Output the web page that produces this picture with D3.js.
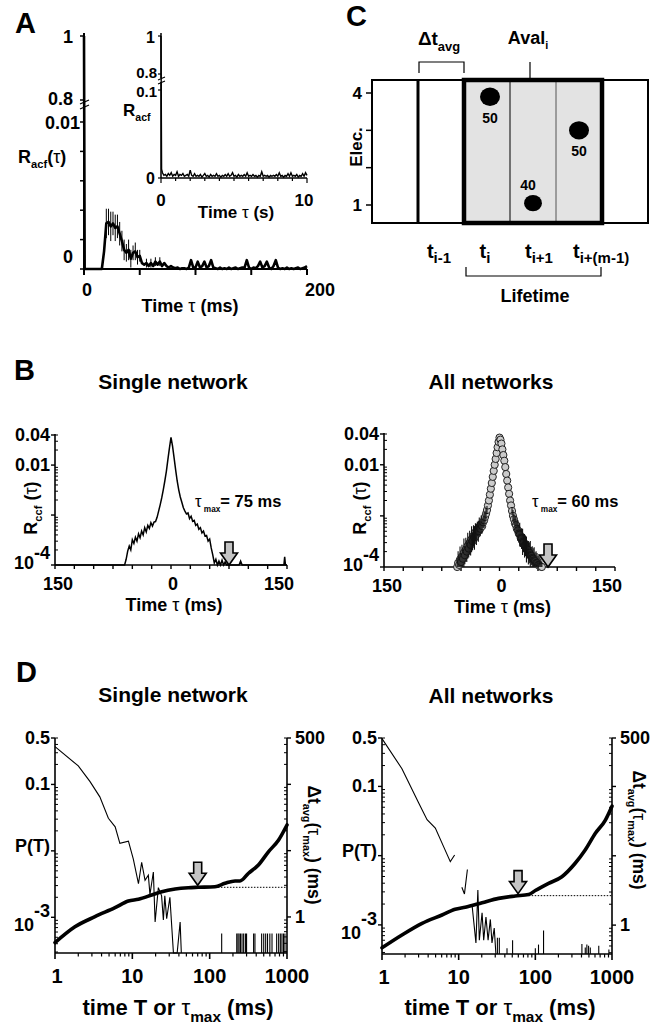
<!DOCTYPE html>
<html><head><meta charset="utf-8">
<script src="https://cdn.jsdelivr.net/npm/d3@7"></script>
<style>
body{margin:0;background:#fff}
svg{display:block}
text{font-family:'Liberation Sans',Arial,Helvetica,sans-serif;fill:#000}
</style>
</head><body>
<svg id="c" width="671" height="1028"></svg>
<script>
// ================= DATA =================
// Panel A: autocorrelation R_acf(tau), tau in ms
const acfMain = [[0,1],[0.6,0],[16,0],[18,0.0012],[20,0.0031],[22,0.0032],[24,0.0029],[26,0.0031],[28,0.0028],[30,0.0029],[32,0.0024],[34,0.0019],[36,0.0013],[38,0.0011],[40,0.0013],[42,0.0007],[44,0.0011],[46,0.0012],[48,0.0008],[50,0.0009],[52,0.0004],[54,0.0003],[56,0.0004],[58,0.0002],[60,0.0004],[62,0.0002],[64,0.0005],[66,0.0003],[68,0.0005],[70,0.0002],[72,0.0004],[74,0.0002],[76,0.0001],[78,0.0002],[80,0.0001],[82,0.00005],[84,0.0001],[86,0],[88,0.00005],[90,0.00005],[92,0],[94,0.0001],[96,0.0006],[98,0.0001],[100,0.0001],[102,0.0005],[104,0.0001],[106,0.0002],[108,0.0005],[110,0.0001],[112,0.0002],[114,0.0006],[116,0.0001],[118,0.00005],[120,0],[122,0.0001],[124,0],[126,0.00005],[128,0],[130,0.0001],[132,0],[134,0.00005],[136,0.0001],[138,0],[140,0.00005],[142,0.0001],[144,0.0001],[146,0.0006],[148,0.0001],[150,0],[152,0.0001],[154,0.00005],[156,0.0002],[158,0.0005],[160,0.0001],[162,0.0002],[164,0.0005],[166,0.0001],[168,0],[170,0.0002],[172,0.0006],[174,0.0001],[176,0],[178,0.00005],[180,0],[182,0.0001],[184,0],[186,0.00005],[188,0],[190,0.00005],[192,0.0001],[194,0],[196,0.00005],[198,0.0001],[200,0.0002]];
const acfErr = [[20,0.0031,0.0010],[22,0.0032,0.0009],[24,0.0029,0.0010],[26,0.0031,0.0008],[28,0.0028,0.0009],[30,0.0029,0.0008],[32,0.0024,0.0008],[34,0.0019,0.0007],[36,0.0013,0.0007],[38,0.0011,0.0006],[40,0.0013,0.0007],[42,0.0007,0.0006],[44,0.0011,0.0005],[46,0.0012,0.0006],[48,0.0008,0.0005],[50,0.0009,0.0004],[56,0.0004,0.0003],[60,0.0004,0.0003],[64,0.0005,0.0003],[68,0.0005,0.0003]];
const acfXTicks = [0,50,100,150,200];
const acfXLabels = ["0","200"];
// Inset: tau in s
const acfInset = [[0,1],[0.04,0.01],[0.1,0.006],[0.2,0.003],[0.3,0.004],[0.4,0.002],[0.5,0.005],[0.6,0.003],[0.7,0.006],[0.8,0.002],[0.9,0.004],[1.0,0.003],[1.1,0.007],[1.2,0.002],[1.3,0.004],[1.4,0.003],[1.5,0.005],[1.6,0.002],[1.7,0.003],[1.8,0.004],[1.9,0.002],[2.0,0.009],[2.1,0.003],[2.2,0.002],[2.3,0.005],[2.4,0.002],[2.5,0.003],[2.6,0.002],[2.7,0.004],[2.8,0.001],[2.9,0.003],[3.0,0.005],[3.1,0.002],[3.2,0.003],[3.3,0.001],[3.4,0.004],[3.5,0.002],[3.6,0.003],[3.7,0.002],[3.8,0.005],[3.9,0.002],[4.0,0.003],[4.1,0.001],[4.2,0.003],[4.3,0.002],[4.4,0.004],[4.5,0.002],[4.6,0.005],[4.7,0.002],[4.8,0.003],[4.9,0.006],[5.0,0.002],[5.1,0.003],[5.2,0.001],[5.3,0.004],[5.4,0.002],[5.5,0.003],[5.6,0.002],[5.7,0.004],[5.8,0.002],[5.9,0.006],[6.0,0.002],[6.1,0.003],[6.2,0.002],[6.3,0.004],[6.4,0.002],[6.5,0.003],[6.6,0.001],[6.7,0.003],[6.8,0.002],[6.9,0.007],[7.0,0.002],[7.1,0.003],[7.2,0.002],[7.3,0.003],[7.4,0.001],[7.5,0.003],[7.6,0.002],[7.7,0.003],[7.8,0.002],[7.9,0.004],[8.0,0.002],[8.1,0.006],[8.2,0.002],[8.3,0.003],[8.4,0.001],[8.5,0.003],[8.6,0.002],[8.7,0.005],[8.8,0.002],[8.9,0.006],[9.0,0.002],[9.1,0.003],[9.2,0.002],[9.3,0.004],[9.4,0.001],[9.5,0.003],[9.6,0.002],[9.7,0.005],[9.8,0.002],[9.9,0.006],[10,0.003]];
const insetXTicks = [0,1,2,3,4,5,6,7,8,9,10];

// Panel C: schematic avalanche
const cBins = [0,1,2,3,4,5];
const cAvalBins = [2,3,4];
const cElecTicks = [1,2,3,4];
const cDots = [{bin:2, elec:3.9, amp:50},{bin:3, elec:1.05, amp:40},{bin:4, elec:3.0, amp:50}];

// Panel B: cross-correlation, single network (line)
const ccfSingle = [[-150,1e-4],[-62,1e-4],[-60,1e-4],[-58,1.3e-4],[-56,1.9e-4],[-54,2.4e-4],[-52,2.0e-4],[-50,3.2e-4],[-48,2.7e-4],[-46,3.6e-4],[-44,3.0e-4],[-42,4.2e-4],[-40,3.5e-4],[-38,4.8e-4],[-36,4.0e-4],[-34,5.6e-4],[-32,4.6e-4],[-30,6.2e-4],[-28,5.4e-4],[-26,7.0e-4],[-24,6.0e-4],[-22,7.2e-4],[-20,7.4e-4],[-18,9e-4],[-16,1.2e-3],[-14,1.6e-3],[-12,2.2e-3],[-10,3.2e-3],[-8,4.8e-3],[-6,7.5e-3],[-4,1.3e-2],[-2,2.2e-2],[0,3.6e-2],[2,2.4e-2],[4,1.4e-2],[6,8e-3],[8,4.8e-3],[10,3.2e-3],[12,2.3e-3],[14,1.8e-3],[16,1.4e-3],[18,1.2e-3],[20,1.05e-3],[22,1.1e-3],[24,8.5e-4],[26,9.5e-4],[28,7.5e-4],[30,7.8e-4],[32,6.2e-4],[34,6.6e-4],[36,5.2e-4],[38,5.6e-4],[40,4.4e-4],[42,4.8e-4],[44,3.8e-4],[46,3.9e-4],[48,3.0e-4],[50,3.3e-4],[52,2.2e-4],[54,1.6e-4],[56,1.1e-4],[58,1.3e-4],[60,1e-4],[62,1.2e-4],[64,1e-4],[66,1.25e-4],[68,1e-4],[70,1.15e-4],[72,1e-4],[88,1e-4],[90,1.2e-4],[92,1e-4],[146,1e-4],[147,1.45e-4],[148,1e-4],[150,1e-4]];
const tauMaxSingle = 75;
// Panel B: all networks (circles with multiplicative error factor)
const ccfAllTau = [-55,-53.75,-52.5,-51.25,-50,-48.75,-47.5,-46.25,-45,-43.75,-42.5,-41.25,-40,-38.75,-37.5,-36.25,-35,-33.75,-32.5,-31.25,-30,-28.75,-27.5,-26.25,-25,-23.75,-22.5,-21.25,-20,-18.75,-17.5,-16.25,-15,-13.75,-12.5,-11.25,-10,-8.75,-7.5,-6.25,-5,-3.75,-2.5,-1.25,0,1.25,2.5,3.75,5,6.25,7.5,8.75,10,11.25,12.5,13.75,15,16.25,17.5,18.75,20,21.25,22.5,23.75,25,26.25,27.5,28.75,30,31.25,32.5,33.75,35,36.25,37.5,38.75,40,41.25,42.5,43.75,45,46.25,47.5,48.75,50,51.25,52.5,53.75,55];
const ccfAllVal = [1.0e-4,1.2e-4,1.1e-4,1.4e-4,1.25e-4,1.6e-4,1.45e-4,1.9e-4,1.7e-4,2.2e-4,2.0e-4,2.6e-4,2.3e-4,3.0e-4,2.7e-4,3.5e-4,3.2e-4,4.1e-4,3.7e-4,4.8e-4,4.3e-4,5.5e-4,5.0e-4,6.2e-4,5.6e-4,6.8e-4,6.3e-4,7.5e-4,8.2e-4,9.5e-4,1.1e-3,1.3e-3,1.6e-3,2.0e-3,2.6e-3,3.4e-3,4.4e-3,5.8e-3,7.6e-3,1.0e-2,1.3e-2,1.7e-2,2.2e-2,2.8e-2,3.4e-2,3.1e-2,2.6e-2,2.0e-2,1.55e-2,1.2e-2,9.0e-3,6.6e-3,4.9e-3,3.6e-3,2.7e-3,2.0e-3,1.6e-3,1.25e-3,1.0e-3,8.6e-4,7.2e-4,6.6e-4,5.6e-4,5.2e-4,4.5e-4,4.3e-4,3.7e-4,3.6e-4,3.1e-4,3.0e-4,2.6e-4,2.6e-4,2.2e-4,2.2e-4,1.9e-4,1.9e-4,1.7e-4,1.65e-4,1.5e-4,1.45e-4,1.35e-4,1.3e-4,1.2e-4,1.18e-4,1.1e-4,1.08e-4,1.04e-4,1.02e-4,1.0e-4];
const ccfAllErr = [1.5,1.7,1.6,1.8,1.5,1.7,1.6,1.9,1.5,1.7,1.6,1.8,1.5,1.7,1.6,1.8,1.5,1.6,1.7,1.5,1.6,1.4,1.6,1.5,1.4,1.5,1.4,1.3,1.4,1.3,1.3,1.2,1,1,1,1,1,1,1,1,1,1,1,1,1,1,1,1,1,1,1,1,1,1,1,1,1,1.2,1.3,1.3,1.4,1.5,1.4,1.6,1.5,1.7,1.5,1.6,1.8,1.5,1.7,1.6,1.8,1.5,1.7,1.6,1.9,1.5,1.7,1.6,1.8,1.5,1.7,1.6,1.5,1.6,1.5,1.4,1.3];
const tauMaxAll = 63;
const bXTicks = [-150,-125,-100,-75,-50,-25,0,25,50,75,100,125,150];
const bXLabels = [[-150,"150"],[0,"0"],[150,"150"]];

// Panel D: lifetime distribution P(T) and dt_avg(tau_max)
const pTSingle = [[1,0.37],[2,0.19],[2.84,0.11],[3.8,0.065],[4.9,0.031],[6.0,0.023],[6.9,0.013],[8.9,0.014],[10.3,0.0075],[12,0.0032],[13.2,0.0067],[14.6,0.0036],[16.1,0.0043],[16.9,0.0022],[18.7,0.0048],[19.7,0.00085],[21.7,0.0028],[23.9,0.0021],[25.2,0.00091],[26.3,0.0021],[27.8,0.00095],[30.6,0.0020],[34,0],[38,0],[41.5,0.00085],[43,0]];
const spikeTSingle = [143,224,232,240,250,262,275,290,300,370,385,470,500,530,560,600,640,735,780,820,860,900,940];
const spikePSingle = [5.7e-4,5.7e-4,5.7e-4,5.7e-4,5.7e-4,5.7e-4,5.7e-4,5.7e-4,5.7e-4,5.7e-4,5.7e-4,5.7e-4,5.7e-4,5.7e-4,5.7e-4,5.7e-4,5.7e-4,5.7e-4,5.7e-4,5.7e-4,5.7e-4,5.7e-4,5.7e-4];
const dtTSingle = [1,1.81,3.29,5.97,8.9,12,17.8,24,35.8,53,71,117,158,213,247,318,427,575,779,1000];
const dtSingle = [0.41,0.71,1.01,1.38,1.74,1.85,2.14,2.40,2.64,2.76,2.80,2.86,3.22,3.49,3.49,4.56,6.09,9.6,14.5,24.4];
const plateauSingle = {from:117, value:2.80, arrowT:70};

const pTAll = [[1,0.49],[1.82,0.18],[3.0,0.058],[3.87,0.033],[4.96,0.025],[6.36,0.0135],[7.78,0.0082],[8.86,0.0102],null,[11,0.0035],[11.9,0.0028],[13,0.0063],null,[14.9,0.0020],[16.8,0.00055],[17.8,0.0032],[18.6,0.0006],[20.2,0.0015],[21.2,0.0006],[22.7,0.0013],[24.2,0.0006],[25.9,0.0012],[27.2,0.00055],[29.1,0.0009],[30.6,0]];
const spikeTAll = [32,33.9,42.7,50.5,100,110,128,405,448,470,495,521,672,911];
const spikePAll = [6.5e-4,6.5e-4,4.6e-4,6e-4,4.6e-4,5.2e-4,8.3e-4,5.3e-4,4.7e-4,5.2e-4,5e-4,4.7e-4,5e-4,4.4e-4];
const dtTAll = [1,1.82,3.33,6.06,9,12.2,20.2,33.2,54.7,81.8,100,149,222,331,447,607,820,1000];
const dtAll = [0.47,0.72,1.06,1.40,1.69,1.81,2.10,2.43,2.63,2.76,3.15,4.0,4.99,7.8,12.1,21.1,32.8,52];
const plateauAll = {from:82, value:2.66, arrowT:59.5};
const dXLabels = [[1,"1"],[10,"10"],[100,"100"],[1000,"1000"]];

// ================= HELPERS =================
const svg = d3.select('#c');
function rich(g, x, y, parts, o = {}) {
  const size = o.size || 17, subS = o.subScale || 0.62;
  const t = g.append('text').attr('x', x).attr('y', y).attr('font-size', size)
    .attr('font-weight', o.weight || 'bold').attr('text-anchor', o.anchor || 'start');
  if (o.rotate) t.attr('transform', `rotate(${o.rotate},${x},${y})`);
  let shift = 0;
  for (const p of parts) {
    const [txt, kind] = typeof p === 'string' ? [p, ''] : p;
    const ts = t.append('tspan').text(txt);
    let target = 0;
    if (kind === 'sub') { target = size * (o.subDrop || 0.3); ts.attr('font-size', size * subS); }
    else if (kind === 'sup') { target = -(o.supRise || size * 0.6); }
    else if (kind === 'sym') { ts.attr('font-weight', 'normal'); }
    if (target !== shift) ts.attr('dy', target - shift);
    shift = target;
  }
  return t;
}
function ln(g, x1, y1, x2, y2, w = 1.5, col = '#000') {
  return g.append('line').attr('x1', x1).attr('y1', y1).attr('x2', x2).attr('y2', y2)
    .attr('stroke', col).attr('stroke-width', w);
}
function arrow(g, x, yTip) {
  const bw = 4, hw = 8.5, bh = 11, hh = 12;
  g.append('path')
    .attr('d', `M${x-bw},${yTip-hh-bh}H${x+bw}V${yTip-hh}H${x+hw}L${x},${yTip}L${x-hw},${yTip-hh}H${x-bw}Z`)
    .attr('fill', '#c4c4c4').attr('stroke', '#000').attr('stroke-width', 1.6);
}
function isMajor(v) { const m = v / Math.pow(10, Math.floor(Math.log10(v) + 1e-9)); return Math.abs(m - 1) < 1e-6; }

// ================= PANEL A =================
const gA = svg.append('g');
const xA = d3.scaleLinear().domain([0, 200]).range([84, 307]);
const yAlo = d3.scaleLinear().domain([0, 0.01]).range([269, 122]);
const yAhi = d3.scaleLinear().domain([0.8, 1]).range([100, 36]);
const yA = v => v >= 0.8 ? yAhi(v) : yAlo(Math.min(v, 0.01));
rich(gA, 15, 33, ["A"], {size: 29});
ln(gA, xA(0), 33, xA(0), yAlo(0), 2);
ln(gA, xA(0), yAlo(0), xA(200), yAlo(0), 2);
yAlo.ticks(5).forEach(v => ln(gA, xA(0) - 4, yAlo(v), xA(0), yAlo(v), 1.5));
[0.8, 1].forEach(v => ln(gA, xA(0) - 4, yAhi(v), xA(0), yAhi(v), 1.5));
acfXTicks.forEach(v => ln(gA, xA(v), yAlo(0), xA(v), yAlo(0) + 6, 2));
gA.append('rect').attr('x', 80).attr('y', 102).attr('width', 9).attr('height', 5).attr('fill', '#fff');
ln(gA, 80, 104, 89, 100, 1.3); ln(gA, 80, 109, 89, 105, 1.3);
rich(gA, 73, yAhi(1) + 7, ["1"], {size: 18, anchor: 'end'});
rich(gA, 73, yAhi(0.8) + 5, ["0.8"], {size: 18, anchor: 'end'});
rich(gA, 80, yAlo(0.01) + 7, ["0.01"], {size: 18, anchor: 'end'});
rich(gA, 73, yAlo(0) - 6, ["0"], {size: 18, anchor: 'end'});
rich(gA, 18, 163, ["R", ["acf", "sub"], "(", ["τ", "sym"], ")"], {size: 18});
rich(gA, xA(0) + 3, 296, [acfXLabels[0]], {size: 18, anchor: 'middle'});
rich(gA, xA(200) + 13, 296, [acfXLabels[1]], {size: 18, anchor: 'middle'});
rich(gA, 190, 312, ["Time ", ["τ", "sym"], " (ms)"], {size: 18, anchor: 'middle'});
acfErr.forEach(d => ln(gA, xA(d[0]), yAlo(d[1] - d[2]), xA(d[0]), yAlo(d[1] + d[2]), 1));
gA.append('path').datum(acfMain)
  .attr('d', d3.line().x(d => xA(d[0])).y(d => yA(d[1])))
  .attr('fill', 'none').attr('stroke', '#000').attr('stroke-width', 2.6).attr('stroke-linejoin', 'round');
// inset
const xI = d3.scaleLinear().domain([0, 10]).range([161, 307]);
const yIlo = d3.scaleLinear().domain([0, 0.1]).range([178, 90]);
const yIhi = d3.scaleLinear().domain([0.8, 1]).range([74, 36]);
const yI = v => v >= 0.8 ? yIhi(v) : yIlo(Math.min(v, 0.1));
ln(gA, xI(0), 33, xI(0), yIlo(0), 1.5);
ln(gA, xI(0), yIlo(0), xI(10), yIlo(0), 1.5);
insetXTicks.forEach(v => ln(gA, xI(v), yIlo(0), xI(v), yIlo(0) + (v % 10 === 0 ? 5 : 3), 1.2));
[0, 0.1].forEach(v => ln(gA, xI(0) - 3, yIlo(v), xI(0), yIlo(v), 1.2));
[0.8, 1].forEach(v => ln(gA, xI(0) - 3, yIhi(v), xI(0), yIhi(v), 1.2));
gA.append('rect').attr('x', 158).attr('y', 78).attr('width', 7).attr('height', 4).attr('fill', '#fff');
ln(gA, 158, 80, 165, 77, 1.1); ln(gA, 158, 84, 165, 81, 1.1);
rich(gA, 155, yIhi(1) + 7, ["1"], {size: 16, anchor: 'end'});
rich(gA, 157, yIhi(0.8) + 4, ["0.8"], {size: 15, anchor: 'end'});
rich(gA, 157, yIlo(0.1) + 7, ["0.1"], {size: 15, anchor: 'end'});
rich(gA, 155, yIlo(0) + 6, ["0"], {size: 16, anchor: 'end'});
rich(gA, 123, 116, ["R", ["acf", "sub"]], {size: 17});
rich(gA, xI(0), 206, ["0"], {size: 17, anchor: 'middle'});
rich(gA, xI(10) - 3, 206, ["10"], {size: 17, anchor: 'middle'});
rich(gA, 236, 218, ["Time ", ["τ", "sym"], " (s)"], {size: 17, anchor: 'middle'});
gA.append('path').datum(acfInset)
  .attr('d', d3.line().x(d => xI(d[0])).y(d => yI(d[1])))
  .attr('fill', 'none').attr('stroke', '#000').attr('stroke-width', 1.4);

// ================= PANEL C =================
const gC = svg.append('g');
const xC = d3.scaleBand().domain(cBins).range([372, 648]);
const yC = d3.scaleLinear().domain([1, 4]).range([205, 93]);
const rC = d3.scaleSqrt().domain([0, 50]).range([0, 10]);
const bw = xC.bandwidth(), cTop = 80, cBot = 223;
rich(gC, 346, 26, ["C"], {size: 29});
gC.append('rect').attr('x', xC(0)).attr('y', cTop).attr('width', xC(5) + bw - xC(0)).attr('height', cBot - cTop)
  .attr('fill', '#fff').attr('stroke', '#000').attr('stroke-width', 2);
const a0 = xC(cAvalBins[0]), a1 = xC(cAvalBins[cAvalBins.length - 1]) + bw;
gC.append('rect').attr('x', a0).attr('y', cTop).attr('width', a1 - a0).attr('height', cBot - cTop)
  .attr('fill', '#e3e3e3').attr('stroke', 'none');
cAvalBins.slice(1).forEach((b, i) => ln(gC, xC(b), cTop, xC(b), cBot, 1, i ? '#555' : '#000'));
ln(gC, xC(1), cTop, xC(1), cBot, 3);
gC.append('rect').attr('x', a0).attr('y', cTop).attr('width', a1 - a0).attr('height', cBot - cTop)
  .attr('fill', 'none').attr('stroke', '#000').attr('stroke-width', 4.5);
cElecTicks.forEach(v => ln(gC, xC(0) - 6, yC(v), xC(0), yC(v), 1.5));
rich(gC, 362, yC(4) + 6, ["4"], {size: 17, anchor: 'end'});
rich(gC, 362, yC(1) + 6, ["1"], {size: 17, anchor: 'end'});
rich(gC, 362, 147, ["Elec."], {size: 17, anchor: 'middle', rotate: -90});
cDots.forEach(d => {
  const cx = xC(d.bin) + bw / 2 + (d.bin === 2 ? 3 : 0), cy = yC(d.elec);
  gC.append('ellipse').attr('cx', cx).attr('cy', cy).attr('rx', rC(d.amp)).attr('ry', rC(d.amp) * 0.92).attr('fill', '#000');
  const below = d.elec > 2;
  rich(gC, cx - (d.bin === 3 ? 5 : 0), below ? cy + rC(d.amp) + 16 : cy - rC(d.amp) - 4, [String(d.amp)], {size: 14, anchor: 'middle'});
});
gC.append('path').attr('d', `M${xC(1) + 1},73V62H${xC(2)}V73`).attr('fill', 'none').attr('stroke', '#000').attr('stroke-width', 1.2);
rich(gC, xC(1) + bw / 2 - 2, 45, ["Δt", ["avg", "sub"]], {size: 19, anchor: 'middle', subScale: 0.68});
ln(gC, 530, 62, 530, cTop, 1.2);
rich(gC, 528, 44, ["Aval", ["i", "sub"]], {size: 18, anchor: 'middle', subScale: 0.6});
rich(gC, xC(1) + bw / 2 - 2, 258, ["t", ["i-1", "sub"]], {size: 20, anchor: 'middle', subScale: 0.75, subDrop: 0.25});
rich(gC, xC(2) + bw / 2 - 2, 258, ["t", ["i", "sub"]], {size: 20, anchor: 'middle', subScale: 0.75, subDrop: 0.25});
rich(gC, xC(3) + bw / 2 + 6, 258, ["t", ["i+1", "sub"]], {size: 20, anchor: 'middle', subScale: 0.75, subDrop: 0.25});
rich(gC, xC(4) + bw / 2 - 6, 258, ["t", ["i+(m-1)", "sub"]], {size: 20, anchor: 'start', subScale: 0.75, subDrop: 0.25});
gC.append('path').attr('d', `M${a0 + 2},267V276H${a1 - 1}V267`).attr('fill', 'none').attr('stroke', '#000').attr('stroke-width', 1.2);
rich(gC, 535, 302, ["Lifetime"], {size: 18, anchor: 'middle'});

// ================= PANEL B =================
function bAxes(g, x, y) {
  const y0 = y.range()[0];
  ln(g, x(-150), y.range()[1] - 1, x(-150), y0, 1.6);
  ln(g, x(-150), y0, x(150), y0, 1.6);
  bXTicks.forEach(v => ln(g, x(v), y0, x(v), y0 + 4, 1.4));
  y.ticks().forEach(v => {
    if (isMajor(v)) ln(g, x(-150) - 4, y(v), x(-150), y(v), 1.4);
    else ln(g, x(-150), y(v), x(-150) + 3, y(v), 1);
  });
  ln(g, x(-150) - 4, y(0.04), x(-150), y(0.04), 1.4);
  const lx = x(-150) - 5;
  rich(g, lx, y(0.04) + 6, ["0.04"], {size: 18, anchor: 'end'});
  rich(g, lx, y(0.01) + 6, ["0.01"], {size: 18, anchor: 'end'});
  rich(g, lx, y0 + 4, ["10", ["-4", "sup"]], {size: 18, anchor: 'end', supRise: 10});
  bXLabels.forEach(d => rich(g, x(d[0]) + (d[0] === 0 ? 2 : d[0] < 0 ? 3 : -8), y0 + 25, [d[1]], {size: 18, anchor: 'middle'}));
  rich(g, x(0) + 3, y0 + 46, ["Time ", ["τ", "sym"], " (ms)"], {size: 18, anchor: 'middle'});
  rich(g, x(-150) - 18, 508, ["R", ["ccf", "sub"], " (", ["τ", "sym"], ")"], {size: 18, anchor: 'middle', rotate: -90});
}
const gB1 = svg.append('g');
const xB1 = d3.scaleLinear().domain([-150, 150]).range([55, 287]);
const yB1 = d3.scaleLog().domain([1e-4, 0.04]).range([565, 435]);
rich(gB1, 14, 380, ["B"], {size: 29});
rich(gB1, 173, 389, ["Single network"], {size: 21, anchor: 'middle'});
bAxes(gB1, xB1, yB1);
gB1.append('path').datum(ccfSingle)
  .attr('d', d3.line().x(d => xB1(d[0])).y(d => yB1(Math.max(d[1], 1e-4))))
  .attr('fill', 'none').attr('stroke', '#000').attr('stroke-width', 1.5);
arrow(gB1, xB1(tauMaxSingle), yB1(1e-4));
rich(gB1, 195, 507, [["τ", "sym"], [" max", "sub"], "= 75 ms"], {size: 16.5, subScale: 0.5});

const gB2 = svg.append('g');
const xB2 = d3.scaleLinear().domain([-150, 150]).range([384, 615]);
const yB2 = d3.scaleLog().domain([1e-4, 0.04]).range([567, 434]);
rich(gB2, 491, 389, ["All  networks"], {size: 21, anchor: 'middle'});
bAxes(gB2, xB2, yB2);
gB2.selectAll('circle.p').data(ccfAllTau).join('circle')
  .attr('cx', t => xB2(t)).attr('cy', (t, i) => yB2(ccfAllVal[i])).attr('r', 3.6)
  .attr('fill', '#cbcbcb').attr('stroke', '#222').attr('stroke-width', 1);
ccfAllTau.forEach((t, i) => {
  const v = ccfAllVal[i], f = ccfAllErr[i];
  if (f > 1) ln(gB2, xB2(t), yB2(Math.max(v / f, 1e-4)), xB2(t), yB2(v * f), 1.1, '#111');
});
arrow(gB2, xB2(tauMaxAll), yB2(1e-4));
rich(gB2, 532, 507, [["τ", "sym"], [" max", "sub"], "= 60 ms"], {size: 16.5, subScale: 0.5});

// ================= PANEL D =================
function dPanel(g, x, yL, yR, pT, spT, spP, dtT, dt, plat, lab) {
  const xl = x.range()[0], xr = x.range()[1], yb = yL.range()[0], yt = yL.range()[1];
  ln(g, xl, yt, xl, yb, 1.6);
  ln(g, xr, yt, xr, yb, 1.6);
  ln(g, xl, yb, xr, yb, 1.6);
  x.ticks().forEach(v => ln(g, x(v), yb, x(v), yb + (isMajor(v) ? 6 : 3.5), isMajor(v) ? 1.6 : 1.2));
  yL.ticks().forEach(v => {
    if (isMajor(v)) ln(g, xl - 4, yL(v), xl, yL(v), 1.4);
    else ln(g, xl, yL(v), xl + 3, yL(v), 1);
  });
  ln(g, xl - 4, yL(0.5), xl, yL(0.5), 1.4);
  yR.ticks().forEach(v => {
    if (isMajor(v)) ln(g, xr, yR(v), xr + 4, yR(v), 1.4);
    else ln(g, xr - 3, yR(v), xr, yR(v), 1);
  });
  ln(g, xr, yR(500), xr + 4, yR(500), 1.4);
  const lx = xl - 5;
  rich(g, lx, yL(0.5) + 6, ["0.5"], {size: 18, anchor: 'end'});
  rich(g, lx, yL(0.1) + 6, ["0.1"], {size: 18, anchor: 'end'});
  rich(g, lx, yL(0.01) + 1, ["P(T)"], {size: 18, anchor: 'end'});
  rich(g, lx, yL(0.001) + 14, ["10", ["-3", "sup"]], {size: 18, anchor: 'end', supRise: 14});
  rich(g, xr + 8, yR(500) + 6, ["500"], {size: 18});
  rich(g, xr + 8, yR(1) + 6, ["1"], {size: 18});
  dXLabels.forEach(d => rich(g, x(d[0]) + (d[0] === 1 ? 2 : 0), yb + 30, [d[1]], {size: 20, anchor: 'middle'}));
  rich(g, lab.cx, 1015, ["time T or ", ["τ", "sym"], ["max", "sub"], " (ms)"], {size: 22, anchor: 'middle', subScale: 0.7});
  rich(g, xr + 21, lab.ry, ["Δt", ["avg", "sub"], "(", ["τ", "sym"], ["max", "sub"], ") (ms)"], {size: 17.5, anchor: 'middle', rotate: 90, subScale: 0.62});
  g.append('path').datum(pT)
    .attr('d', d3.line().defined(d => d !== null).x(d => x(d[0])).y(d => d[1] > 0 ? yL(d[1]) : yb))
    .attr('fill', 'none').attr('stroke', '#000').attr('stroke-width', 1.1);
  spT.forEach((t, i) => ln(g, x(t), yb, x(t), yL(spP[i]), 1.1));
  ln(g, x(plat.from), yR(plat.value), xr, yR(plat.value), 1).attr('stroke-dasharray', '1.5,1.5');
  g.append('path').datum(dtT.map((t, i) => [t, dt[i]]))
    .attr('d', d3.line().curve(d3.curveMonotoneX).x(d => x(d[0])).y(d => yR(d[1])))
    .attr('fill', 'none').attr('stroke', '#000').attr('stroke-width', 3.6).attr('stroke-linecap', 'round');
  arrow(g, x(plat.arrowT), yR(plat.value) - 2);
}
const gD1 = svg.append('g');
rich(gD1, 16, 682, ["D"], {size: 29});
rich(gD1, 173, 702, ["Single network"], {size: 21, anchor: 'middle'});
dPanel(gD1,
  d3.scaleLog().domain([1, 1000]).range([55, 287]),
  d3.scaleLog().domain([2.9e-4, 0.5]).range([953, 738]),
  d3.scaleLog().domain([0.286, 500]).range([953, 738]),
  pTSingle, spikeTSingle, spikePSingle, dtTSingle, dtSingle, plateauSingle, {cx: 178, ry: 845});
const gD2 = svg.append('g');
rich(gD2, 491, 703, ["All  networks"], {size: 21, anchor: 'middle'});
dPanel(gD2,
  d3.scaleLog().domain([1, 1000]).range([382, 612]),
  d3.scaleLog().domain([3.8e-4, 0.5]).range([954, 738]),
  d3.scaleLog().domain([0.383, 500]).range([954, 738]),
  pTAll, spikeTAll, spikePAll, dtTAll, dtAll, plateauAll, {cx: 500, ry: 830});
</script>
</body></html>
